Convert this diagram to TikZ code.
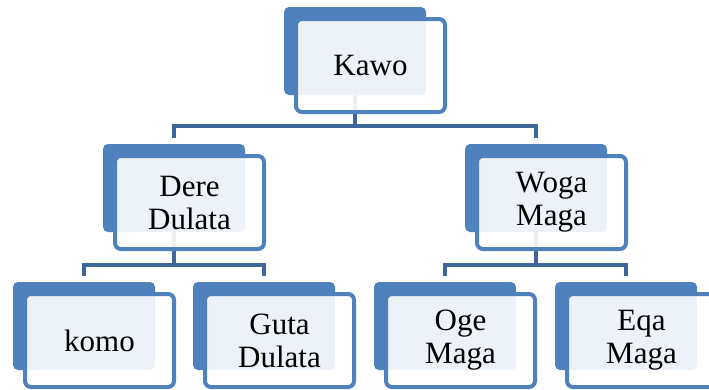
\documentclass[tikz,border=0pt]{standalone}
\usepackage{fontspec}
\setmainfont{Liberation Serif}
\usetikzlibrary{calc}
\definecolor{accent}{RGB}{79,129,189}
\definecolor{linkc}{RGB}{62,102,152}
\tikzset{
  backbox/.style={shape=rectangle, fill=accent, draw=none, rounded corners=5pt,
    minimum width=142pt, minimum height=88pt, inner sep=0pt, outer sep=0pt},
  frontbox/.style={shape=rectangle, draw=accent, line width=4pt, fill=white, fill opacity=0.9,
    text opacity=1, rounded corners=6pt, minimum width=149pt, minimum height=93pt,
    inner sep=0pt, outer sep=0pt, align=center, font=\fontsize{31}{33}\selectfont},
  link/.style={draw=linkc, line width=4pt}
}
\begin{document}
\begin{tikzpicture}[x=1pt,y=-1pt]
\useasboundingbox (0,0) rectangle (709,389);
\clip (0,0) rectangle (709,389);
% back boxes (centers = top-left + (71,44))
\node[backbox] (kawob) at (355,51) {};
\node[backbox] (dereb) at (174,188) {};
\node[backbox] (wogab) at (536,188) {};
\node[backbox] (komob) at (84,326) {};
\node[backbox] (gutab) at (264,326) {};
\node[backbox] (ogeb) at (445,326) {};
\node[backbox] (eqab) at (626,326) {};
% connectors
\draw[link] (kawob.south) -- ++(0,31) coordinate (bar1);
\draw[link] ($(dereb.north)+(0,-6)$) |- (bar1) -| ($(wogab.north)+(0,-6)$);
\draw[link] (dereb.south) -- ++(0,33) coordinate (bar2);
\draw[link] ($(komob.north)+(0,-6)$) |- (bar2) -| ($(gutab.north)+(0,-6)$);
\draw[link] (wogab.south) -- ++(0,33) coordinate (bar3);
\draw[link] ($(ogeb.north)+(0,-6)$) |- (bar3) -| ($(eqab.north)+(0,-6)$);
% front boxes
\node[frontbox] (kawof) at ($(kawob.center)+(15.5,14.5)$) {Kawo};
\node[frontbox] (deref) at ($(dereb.center)+(15.5,14.5)$) {Dere\\Dulata};
\node[frontbox] (wogaf) at ($(wogab.center)+(15.5,14.5)$) {Woga\\Maga};
\node[frontbox] (komof) at ($(komob.center)+(15.5,14.5)$) {komo};
\node[frontbox] (gutaf) at ($(gutab.center)+(15.5,14.5)$) {Guta\\Dulata};
\node[frontbox] (ogef) at ($(ogeb.center)+(15.5,14.5)$) {Oge\\Maga};
\node[frontbox] (eqaf) at ($(eqab.center)+(15.5,14.5)$) {Eqa\\Maga};
\end{tikzpicture}
\end{document}
